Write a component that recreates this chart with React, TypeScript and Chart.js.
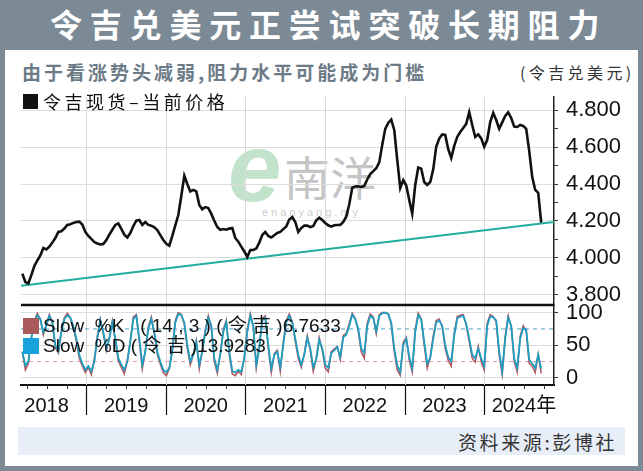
import React, { useEffect, useRef } from "react";
import { Chart, registerables } from "chart.js";

Chart.register(...registerables);

// ---------- texts ----------
const TITLE = "令吉兑美元正尝试突破长期阻力";
const SUBTITLE = "由于看涨势头减弱,阻力水平可能成为门槛";
const UNIT = "(令吉兑美元)";
const PRICE_LABEL = "令吉现货–当前价格";
const K_LABEL = "Slow  %K   ( 14 , 3 ) ( 令 吉 )6.7633";
const D_LABEL = "Slow  %D ( 令 吉 )13.9283";
const SOURCE = "资料来源:彭博社";

// ---------- time axis ----------
const FIRST_SAMPLE = 2018.195; // first sample (decimal year)
const SAMPLE_STEP = 0.0377; // ~2-week sampling
const X_MIN = 2018.178;
const X_MAX = 2024.878;
const YEAR_BOUNDARIES = [2019, 2020, 2021, 2022, 2023, 2024];
const YEAR_LABEL_POS = [2018.5, 2019.5, 2020.5, 2021.5, 2022.5, 2023.5, 2024.5];
const YEAR_LABELS = ["2018", "2019", "2020", "2021", "2022", "2023", "2024年"];
const QUARTERS = [
  2018.25, 2018.5, 2018.75, 2019.25, 2019.5, 2019.75, 2020.25, 2020.5, 2020.75,
  2021.25, 2021.5, 2021.75, 2022.25, 2022.5, 2022.75, 2023.25, 2023.5, 2023.75,
  2024.25, 2024.5, 2024.75,
];

// ---------- price (USD/MYR) ----------
const PRICE = [
  3.913, 3.868, 3.86, 3.905, 3.955, 3.985, 4.012, 4.053, 4.045, 4.06,
  4.082, 4.107, 4.14, 4.144, 4.158, 4.178, 4.182, 4.189, 4.194, 4.196,
  4.18, 4.14, 4.118, 4.102, 4.085, 4.077, 4.072, 4.074, 4.096, 4.125,
  4.152, 4.178, 4.186, 4.156, 4.125, 4.11, 4.134, 4.172, 4.201, 4.205,
  4.178, 4.194, 4.178, 4.174, 4.165, 4.15, 4.123, 4.096, 4.075, 4.065,
  4.118, 4.176, 4.232, 4.335, 4.445, 4.4, 4.36, 4.368, 4.36, 4.287,
  4.263, 4.275, 4.27, 4.238, 4.201, 4.167, 4.151, 4.156, 4.152, 4.158,
  4.161, 4.107, 4.087, 4.06, 4.034, 4.004, 4.042, 4.042, 4.05, 4.082,
  4.123, 4.14, 4.118, 4.11, 4.122, 4.134, 4.14, 4.155, 4.17, 4.207,
  4.221, 4.194, 4.14, 4.161, 4.174, 4.174, 4.166, 4.172, 4.203, 4.217,
  4.205, 4.189, 4.176, 4.169, 4.176, 4.178, 4.178, 4.194, 4.223, 4.29,
  4.38, 4.387, 4.388, 4.384, 4.39, 4.425, 4.455, 4.47, 4.486, 4.518,
  4.613, 4.7, 4.732, 4.75, 4.694, 4.531, 4.379, 4.422, 4.392, 4.314,
  4.24, 4.395, 4.49, 4.484, 4.411, 4.395, 4.411, 4.48, 4.603, 4.647,
  4.67, 4.667, 4.589, 4.542, 4.607, 4.656, 4.683, 4.705, 4.727, 4.79,
  4.721, 4.656, 4.67, 4.648, 4.603, 4.64, 4.737, 4.786, 4.748, 4.7,
  4.735, 4.77, 4.79, 4.759, 4.712, 4.71, 4.721, 4.716, 4.7, 4.58,
  4.439, 4.368, 4.352, 4.19,
];

// long-term support trendline
const TREND_DATES = [X_MIN, X_MAX];
const TREND_VALUES = [3.848, 4.194];

// ---------- stochastic ----------
const STOCH_D = [
  40, 19, 25, 60, 85, 96, 90, 70, 80, 95,
  85, 50, 40, 70, 90, 96, 92, 80, 60, 35,
  22, 12, 18, 10, 25, 60, 88, 70, 45, 60,
  85, 60, 30, 20, 12, 25, 55, 90, 95, 60,
  20, 40, 75, 90, 70, 40, 25, 12, 8, 15,
  40, 85, 98, 96, 85, 50, 25, 35, 55, 20,
  40, 70, 92, 80, 30, 12, 35, 70, 85, 40,
  10, 8, 12, 9, 30, 70, 95, 80, 20, 45,
  88, 92, 50, 14, 35, 40, 17, 50, 85, 95,
  85, 60, 35, 20, 35, 61, 45, 16, 28, 58,
  45, 20, 15, 38, 42, 47, 32, 62, 66, 80,
  97, 90, 75, 45, 38, 80, 95, 92, 72, 95,
  99, 100, 98, 85, 45, 19, 9, 50, 60, 32,
  15, 70, 96, 90, 55, 22, 30, 60, 85, 88,
  80, 50, 32, 25, 65, 91, 94, 95, 83, 60,
  35, 30, 45, 30, 18, 80, 94, 93, 88, 40,
  10, 60, 92, 80, 30, 15, 60, 76, 74, 28,
  22, 15, 35, 13.93,
];
const STOCH_K = [
  40, 12, 22, 62, 88, 99, 90, 66, 82, 97,
  85, 46, 38, 72, 92, 99, 92, 78, 56, 30,
  18, 8, 16, 5, 28, 64, 90, 68, 42, 62,
  87, 56, 26, 16, 6, 26, 58, 93, 97, 56,
  14, 42, 78, 93, 68, 36, 21, 8, 3, 14,
  44, 88, 100, 97, 82, 45, 20, 36, 57, 14,
  42, 74, 95, 78, 25, 7, 38, 74, 88, 36,
  6, 3, 10, 5, 32, 74, 98, 78, 15, 48,
  91, 95, 46, 8, 37, 42, 10, 54, 88, 98,
  86, 56, 30, 16, 37, 64, 42, 10, 30, 61,
  42, 15, 9, 40, 44, 48, 28, 65, 68, 83,
  99, 91, 72, 40, 30, 84, 98, 93, 68, 97,
  100, 100, 98, 82, 40, 12, 4, 54, 62, 27,
  9, 74, 99, 90, 50, 15, 32, 64, 88, 90,
  78, 45, 27, 18, 68, 94, 96, 97, 81, 56,
  30, 24, 48, 25, 12, 84, 97, 94, 86, 35,
  5, 64, 95, 78, 25, 9, 64, 80, 72, 22,
  18, 8, 36, 6.76,
];
const OVERBOUGHT = 75;
const OVERSOLD = 25;

// ---------- value axes ----------
const PRICE_MIN = 3.743;
const PRICE_MAX = 4.873;
const PRICE_TICKS = [3.8, 3.9, 4.0, 4.1, 4.2, 4.3, 4.4, 4.5, 4.6, 4.7, 4.8];
const PRICE_LABELED = [3.8, 4.0, 4.2, 4.4, 4.6, 4.8];
const STOCH_MIN = -11.2;
const STOCH_MAX = 111.8;
const STOCH_TICKS = [0, 50, 100];

const SANS = '"Liberation Sans", Arial, "Noto Sans CJK SC", sans-serif';
const CJK = '"Noto Sans CJK SC", "Noto Sans", sans-serif';

const DATES = PRICE.map((_, i) => FIRST_SAMPLE + i * SAMPLE_STEP);
const pts = (vals: number[]) => vals.map((v, i) => ({ x: DATES[i], y: v }));

const isLabeled = (v: number) => PRICE_LABELED.some((m) => Math.abs(m - v) < 1e-6);

const panelDecor = {
  id: "panelDecor",
  beforeDatasetsDraw(chart: any) {
    const { ctx, chartArea, scales } = chart;
    const x = scales.x;
    ctx.save();
    ctx.strokeStyle = "#d8d8d8";
    ctx.lineWidth = 1;
    YEAR_BOUNDARIES.forEach((yr) => {
      const px = Math.round(x.getPixelForValue(yr)) + 0.5;
      ctx.beginPath();
      ctx.moveTo(px, chartArea.top);
      ctx.lineTo(px, chartArea.bottom);
      ctx.stroke();
    });
    ctx.restore();
  },
  afterDraw(chart: any) {
    const { ctx, chartArea, scales } = chart;
    const x = scales.x;
    const y = scales.y;
    ctx.save();
    ctx.strokeStyle = "#111";
    ctx.lineWidth = 2.5;
    ctx.beginPath();
    ctx.moveTo(chartArea.left, y.bottom);
    ctx.lineTo(chartArea.right, y.bottom);
    ctx.stroke();
    ctx.lineWidth = 1.2;
    YEAR_BOUNDARIES.forEach((yr) => {
      const px = Math.round(x.getPixelForValue(yr)) + 0.5;
      ctx.beginPath();
      ctx.moveTo(px, x.top);
      ctx.lineTo(px, x.bottom);
      ctx.stroke();
    });
    ctx.lineWidth = 1;
    ctx.strokeStyle = "#333";
    QUARTERS.forEach((q) => {
      const px = Math.round(x.getPixelForValue(q)) + 0.5;
      ctx.beginPath();
      ctx.moveTo(px, x.top);
      ctx.lineTo(px, x.top + 4);
      ctx.stroke();
    });
    ctx.restore();
  },
};

function StochChart() {
  const ref = useRef<HTMLCanvasElement | null>(null);
  useEffect(() => {
    if (!ref.current) return;
    const chart = new Chart(ref.current, {
      type: "line",
      data: {
        datasets: [
          {
            label: "price",
            data: pts(PRICE),
            yAxisID: "y",
            borderColor: "#111",
            borderWidth: 2.6,
            pointRadius: 0,
            tension: 0,
          },
          {
            label: "trend",
            data: TREND_DATES.map((d, i) => ({ x: d, y: TREND_VALUES[i] })),
            yAxisID: "y",
            borderColor: "#22ad9c",
            borderWidth: 2,
            pointRadius: 0,
          },
          {
            label: "%D",
            data: pts(STOCH_D),
            yAxisID: "y2",
            borderColor: "#1c9fc2",
            borderWidth: 1.8,
            pointRadius: 0,
            tension: 0,
          },
          {
            label: "%K",
            data: pts(STOCH_K),
            yAxisID: "y2",
            borderColor: "#b4585e",
            borderWidth: 1.6,
            pointRadius: 0,
            tension: 0,
          },
          {
            label: "ob",
            data: [
              { x: X_MIN, y: OVERBOUGHT },
              { x: X_MAX, y: OVERBOUGHT },
            ],
            yAxisID: "y2",
            borderColor: "#4f9fc4",
            borderDash: [4, 4],
            borderWidth: 1,
            pointRadius: 0,
          },
          {
            label: "os",
            data: [
              { x: X_MIN, y: OVERSOLD },
              { x: X_MAX, y: OVERSOLD },
            ],
            yAxisID: "y2",
            borderColor: "#e59aa6",
            borderDash: [4, 4],
            borderWidth: 1,
            pointRadius: 0,
          },
        ],
      },
      options: {
        animation: false,
        responsive: false,
        maintainAspectRatio: false,
        layout: { padding: { left: 21, top: 97, right: 0, bottom: 56 } },
        plugins: { legend: { display: false }, tooltip: { enabled: false } },
        scales: {
          x: {
            type: "linear",
            min: X_MIN,
            max: X_MAX,
            afterBuildTicks: (s: any) => {
              s.ticks = YEAR_LABEL_POS.map((v) => ({ value: v }));
            },
            afterFit: (s: any) => {
              s.height = 30;
            },
            ticks: {
              autoSkip: false,
              maxRotation: 0,
              padding: 9,
              color: "#111",
              font: { family: SANS, size: 20 },
              callback: (v: any) => YEAR_LABELS[YEAR_LABEL_POS.indexOf(Number(v))] ?? "",
            },
            grid: { display: true, color: "transparent", drawTicks: false, drawOnChartArea: false },
            border: { display: true, color: "#111", width: 2 },
          },
          y: {
            type: "linear",
            position: "right",
            stack: "panels",
            stackWeight: 208,
            min: PRICE_MIN,
            max: PRICE_MAX,
            afterBuildTicks: (s: any) => {
              s.ticks = PRICE_TICKS.map((v) => ({ value: v }));
            },
            afterFit: (s: any) => {
              s.width = 89;
            },
            ticks: {
              autoSkip: false,
              padding: 8,
              color: "#111",
              font: { family: SANS, size: 22 },
              callback: (v: any) => (isLabeled(Number(v)) ? Number(v).toFixed(3) : ""),
            },
            grid: {
              color: (c: any) => (c.tick && isLabeled(c.tick.value) ? "#dcdcdc" : "transparent"),
              tickColor: "#333",
              tickLength: 4,
            },
            border: { display: true, color: "#222", width: 1.5 },
          },
          y2: {
            type: "linear",
            position: "right",
            stack: "panels",
            stackWeight: 80,
            min: STOCH_MIN,
            max: STOCH_MAX,
            afterBuildTicks: (s: any) => {
              s.ticks = STOCH_TICKS.map((v) => ({ value: v }));
            },
            afterFit: (s: any) => {
              s.width = 89;
            },
            ticks: {
              autoSkip: false,
              padding: 8,
              color: "#111",
              font: { family: SANS, size: 22 },
              callback: (v: any) => String(v),
            },
            grid: { color: "#dcdcdc", tickColor: "#333", tickLength: 4 },
            border: { display: true, color: "#222", width: 1.5 },
          },
        },
      },
      plugins: [panelDecor],
    } as any);
    return () => chart.destroy();
  }, []);
  return (
    <canvas
      ref={ref}
      width={643}
      height={471}
      style={{ position: "absolute", left: 0, top: 0, width: 643, height: 471 }}
    />
  );
}

export default function App() {
  const abs: React.CSSProperties = { position: "absolute", whiteSpace: "pre" };
  return (
    <div
      style={{
        position: "fixed",
        left: 0,
        top: 0,
        width: 643,
        height: 471,
        background: "#7c8a96",
        overflow: "hidden",
      }}
    >
      <div
        style={{
          ...abs,
          left: 50,
          top: 6,
          fontFamily: CJK,
          fontWeight: 700,
          fontSize: 32,
          lineHeight: "34px",
          letterSpacing: 7.8,
          color: "#fff",
        }}
      >
        {TITLE}
      </div>
      <div style={{ position: "absolute", left: 5, top: 50, width: 633, height: 416, background: "#fff" }} />
      <div
        style={{
          ...abs,
          left: 22,
          top: 60,
          fontFamily: CJK,
          fontWeight: 700,
          fontSize: 19,
          lineHeight: "24px",
          letterSpacing: 3,
          color: "#6d7b87",
        }}
      >
        {SUBTITLE}
      </div>
      <div
        style={{
          ...abs,
          left: 520,
          top: 61,
          fontFamily: CJK,
          fontSize: 16,
          lineHeight: "22px",
          letterSpacing: 3.4,
          color: "#333",
        }}
      >
        {UNIT}
      </div>
      {/* watermark */}
      <div
        style={{
          ...abs,
          left: 228,
          top: 118,
          fontFamily: SANS,
          fontStyle: "italic",
          fontWeight: 700,
          fontSize: 96,
          lineHeight: "100px",
          color: "rgba(120,190,140,0.45)",
        }}
      >
        e
      </div>
      <div
        style={{
          ...abs,
          left: 284,
          top: 148,
          fontFamily: CJK,
          fontSize: 46,
          lineHeight: "54px",
          color: "rgba(140,140,140,0.5)",
        }}
      >
        南洋
      </div>
      <div
        style={{
          ...abs,
          left: 262,
          top: 205,
          fontFamily: SANS,
          fontSize: 11,
          lineHeight: "14px",
          letterSpacing: 3,
          color: "rgba(150,150,150,0.5)",
        }}
      >
        enanyang.my
      </div>
      <div style={{ position: "absolute", left: 18, top: 427, width: 607, height: 28, background: "#e8eef7" }} />
      <div
        style={{
          ...abs,
          left: 458,
          top: 430,
          fontFamily: CJK,
          fontSize: 19,
          lineHeight: "24px",
          letterSpacing: 2.6,
          color: "#333",
        }}
      >
        {SOURCE}
      </div>
      <StochChart />
      {/* main legend */}
      <div style={{ position: "absolute", left: 23, top: 94, width: 15, height: 15, background: "#111" }} />
      <div
        style={{
          ...abs,
          left: 43,
          top: 89,
          fontFamily: CJK,
          fontSize: 18,
          lineHeight: "24px",
          letterSpacing: 3.5,
          color: "#111",
        }}
      >
        {PRICE_LABEL}
      </div>
      {/* stochastic legend */}
      <div style={{ position: "absolute", left: 23, top: 318, width: 16, height: 16, background: "#a85a5a" }} />
      <div style={{ position: "absolute", left: 23, top: 338, width: 16, height: 16, background: "#17a2dc" }} />
      <div
        style={{
          ...abs,
          left: 43,
          top: 315,
          fontFamily: SANS,
          fontSize: 19,
          lineHeight: "21px",
          color: "#111",
        }}
      >
        {K_LABEL}
      </div>
      <div
        style={{
          ...abs,
          left: 43,
          top: 335,
          fontFamily: SANS,
          fontSize: 19,
          lineHeight: "21px",
          color: "#111",
        }}
      >
        {D_LABEL}
      </div>
    </div>
  );
}
